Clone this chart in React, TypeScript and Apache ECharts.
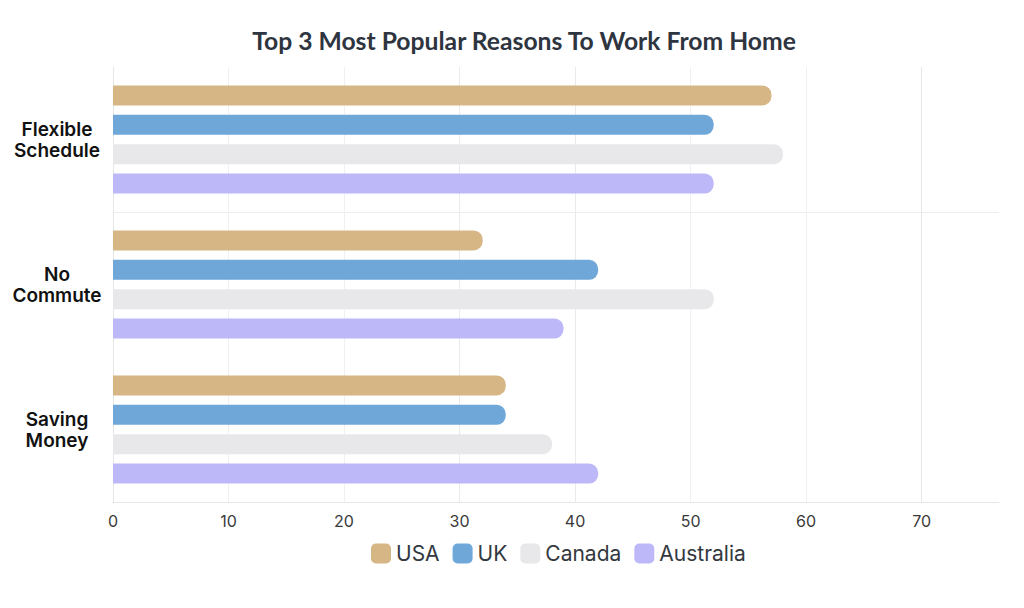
import React, { useEffect, useRef } from "react";
import * as echarts from "echarts";

const categories = ["Flexible\nSchedule", "No\nCommute", "Saving\nMoney"];
const seriesNames = ["USA", "UK", "Canada", "Australia"];
const usa = [57, 32, 34];
const uk = [52, 42, 34];
const canada = [58, 52, 38];
const australia = [52, 39, 42];
const colors = ["#D6B684", "#6FA7D9", "#E8E8EA", "#BDB9F8"];

export default function App() {
  const ref = useRef<HTMLDivElement>(null);
  useEffect(() => {
    const chart = echarts.init(ref.current!, null, { renderer: "svg" });
    const values = [usa, uk, canada, australia];
    chart.setOption({
      animation: false,
      backgroundColor: "#ffffff",
      title: {
        text: "Top 3 Most Popular Reasons To Work From Home",
        left: 519,
        top: 23,
        textAlign: "center",
        textStyle: {
          fontFamily: "Lato",
          fontWeight: "bold",
          fontSize: 24.7,
          color: "#2E3540",
        },
      },
      legend: {
        data: seriesNames,
        left: 366,
        top: 538,
        itemWidth: 20,
        itemHeight: 20,
        itemGap: 13,
        icon: "roundRect",
        textStyle: {
          fontFamily: "Inter",
          fontSize: 21,
          color: "#333840",
        },
      },
      grid: { left: 113, right: 25, top: 67, bottom: 106 },
      xAxis: {
        type: "value",
        min: 0,
        max: 76.7,
        interval: 10,
        axisLine: { show: true, lineStyle: { color: "#E6E6E6" } },
        axisTick: { show: false },
        axisLabel: {
          showMaxLabel: false,
          fontFamily: "Inter",
          fontSize: 16,
          color: "#3A3A3A",
          margin: 11,
        },
        splitLine: { show: true, lineStyle: { color: ["#F0F0F0", "#F0F0F0", "#F0F0F0", "#EAEAEA", "#EAEAEA", "#F0F0F0", "#F0F0F0", "#E6E6E6", "transparent"] } },
      },
      yAxis: {
        type: "category",
        data: categories,
        inverse: true,
        axisLine: { show: true, lineStyle: { color: "#E6E6E6" } },
        axisTick: { show: false },
        axisLabel: {
          align: "center",
          margin: 56,
          fontFamily: "Inter",
          fontWeight: 600,
          fontSize: 19,
          lineHeight: 21,
          padding: [11, 0, 0, 0],
          color: "#111",
        },
        splitLine: {
          show: true,
          lineStyle: { color: ["transparent", "#EEEEEE", "transparent", "transparent"] },
        },
      },
      series: seriesNames.map((name, i) => ({
        name,
        type: "bar",
        data: values[i],
        barWidth: 20,
        barGap: "47%",
        itemStyle: { color: colors[i], borderRadius: [0, 9, 9, 0] },
      })),
    });
    return () => chart.dispose();
  }, []);
  return <div ref={ref} style={{ width: 1024, height: 608, margin: -8 }} />;
}
